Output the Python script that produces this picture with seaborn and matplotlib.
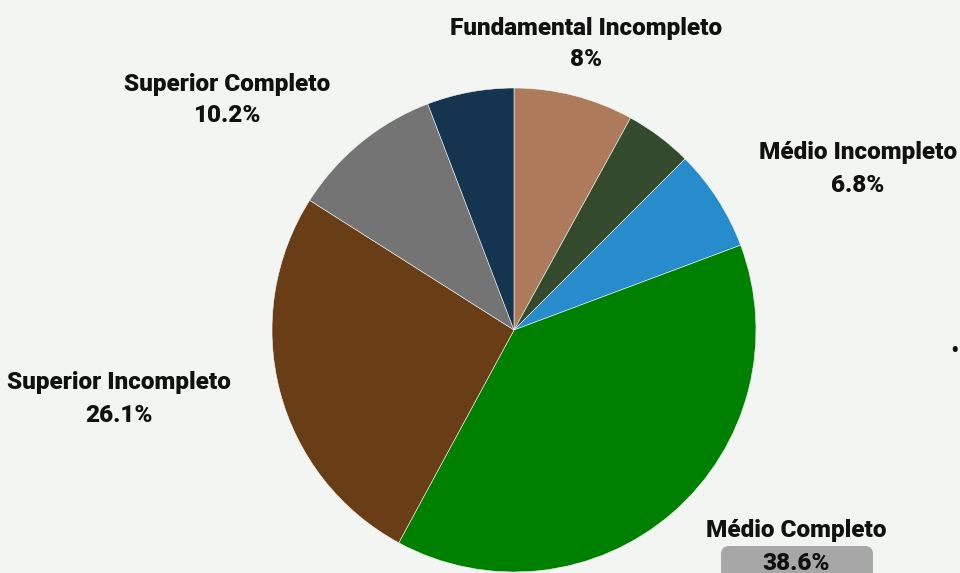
import matplotlib.pyplot as plt
import seaborn as sns
from matplotlib.patches import FancyBboxPatch

# slices clockwise from 12 o'clock
categories = ['Fundamental Incompleto', 'Fundamental Completo', 'Médio Incompleto',
              'Médio Completo', 'Superior Incompleto', 'Superior Completo', 'Pós-graduação']
values = [8, 4.5, 6.8, 38.6, 26.1, 10.2, 5.8]
colors = ['#AD7A5C', '#344A2C', '#268CCB', '#008000', '#693D15', '#747474', '#14344F']
shown = ['8%', None, '6.8%', '38.6%', '26.1%', '10.2%', None]

sns.set_theme(style='white')
plt.rcParams['font.family'] = ['Roboto', 'DejaVu Sans']
bg = '#F3F5F2'

fig = plt.figure(figsize=(9.6, 5.73), dpi=100, facecolor=bg)
ax = fig.add_axes([0, 0, 1, 1])
ax.set_facecolor(bg)

# pie center / radius in pixel units
cx, cy, r = 514, 330, 242
ax.pie(values, colors=colors, startangle=90, counterclock=False,
       center=(cx, 573 - cy), radius=r, frame=True,
       wedgeprops=dict(linewidth=0.4, edgecolor=bg))
ax.set_xlim(0, 960)
ax.set_ylim(0, 573)
ax.set_aspect('equal')
ax.axis('off')

# label anchor (center x, first line y) in image pixels
label_pos = {
    'Fundamental Incompleto': (586, 28),
    'Médio Incompleto': (858, 153),
    'Médio Completo': (796, 531),
    'Superior Incompleto': (119, 383),
    'Superior Completo': (227, 84),
}

# gray marker behind the 38.6% label
ax.add_patch(FancyBboxPatch((721, 573 - 582), 152, 36,
                            boxstyle='round,pad=0,rounding_size=8',
                            facecolor='#A7A7A7', edgecolor='none', zorder=3))

for cat, pct in zip(categories, shown):
    if pct is None:
        continue
    x, y = label_pos[cat]
    ax.text(x, 573 - y, cat, ha='center', va='center', fontsize=17.5,
            fontweight='black', color='#111111', zorder=4)
    ax.text(x, 573 - y - 32, pct, ha='center', va='center', fontsize=17.5,
            fontweight='black', color='#111111', zorder=4)

# small mark at the right edge
ax.text(954, 573 - 352, '•', ha='center', va='center', fontsize=18, color='#111111')

plt.savefig('out.png', dpi=100, facecolor=bg)
